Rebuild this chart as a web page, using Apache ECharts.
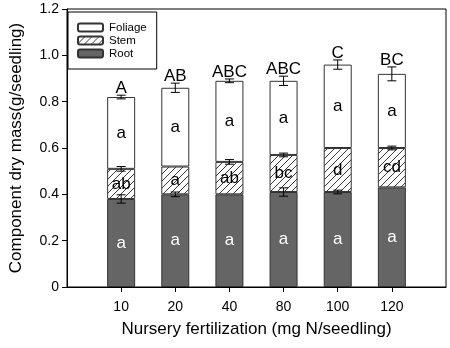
<!DOCTYPE html>
<html>
<head>
<meta charset="utf-8">
<script src="https://cdn.jsdelivr.net/npm/echarts@6/dist/echarts.min.js"></script>
<style>
  html, body { margin: 0; padding: 0; background: #fff; }
  #chart { width: 450px; height: 348px; }
</style>
</head>
<body>
<div id="chart"></div>
<script>
// Component dry mass per seedling at each fertilization rate
const categories = ['10', '20', '40', '80', '100', '120'];
const rootMass = [0.38, 0.40, 0.40, 0.41, 0.41, 0.43];
const stemMass = [0.13, 0.12, 0.14, 0.16, 0.19, 0.17];
const foliageMass = [0.31, 0.34, 0.35, 0.32, 0.36, 0.32];

// Standard errors (root top, stem top, whole-seedling top)
const rootSE = [0.018, 0.01, 0, 0.018, 0.008, 0];
const stemSE = [0.01, 0, 0.01, 0.008, 0, 0.008];
const totalSE = [0.008, 0.02, 0.008, 0.02, 0.02, 0.03];

// Significance letters
const rootLetters = ['a', 'a', 'a', 'a', 'a', 'a'];
const stemLetters = ['ab', 'a', 'ab', 'bc', 'd', 'cd'];
const foliageLetters = ['a', 'a', 'a', 'a', 'a', 'a'];
const totalLetters = ['A', 'AB', 'ABC', 'ABC', 'C', 'BC'];

const yTickLabels = ['0', '0.2', '0.4', '0.6', '0.8', '1.0', '1.2'];

const FONT = '"Liberation Sans", Arial, sans-serif';

// Axis categories padded with an empty slot on each side
const axisCats = [''].concat(categories, ['']);
const pad = v => [null].concat(v, [null]);

// Diagonal hatch for the stem segment
function hatchPattern() {
  const s = 7;
  const c = document.createElement('canvas');
  c.width = s; c.height = s;
  const g = c.getContext('2d');
  g.fillStyle = '#fff';
  g.fillRect(0, 0, s, s);
  g.strokeStyle = '#222';
  g.lineWidth = 0.9;
  g.beginPath();
  g.moveTo(0, s); g.lineTo(s, 0);
  g.moveTo(-1, 1); g.lineTo(1, -1);
  g.moveTo(s - 1, s + 1); g.lineTo(s + 1, s - 1);
  g.stroke();
  return c;
}

const stemTop = rootMass.map((r, i) => r + stemMass[i]);
const totalTop = stemTop.map((s, i) => s + foliageMass[i]);

const errData = [];
categories.forEach((c, i) => {
  if (rootSE[i] > 0) errData.push([i + 1, rootMass[i], rootSE[i]]);
  if (stemSE[i] > 0) errData.push([i + 1, stemTop[i], stemSE[i]]);
  if (totalSE[i] > 0) errData.push([i + 1, totalTop[i], totalSE[i]]);
});

const topLetterData = categories.map((c, i) => [i + 1, totalTop[i] + totalSE[i], totalLetters[i]]);

const chart = echarts.init(document.getElementById('chart'), null, { renderer: 'canvas' });

const barBorder = { borderColor: '#333', borderWidth: 1 };

chart.setOption({
  animation: false,
  textStyle: { fontFamily: FONT },
  grid: { left: 61, right: 4, top: 9, bottom: 61, show: true, borderColor: '#000', borderWidth: 1, backgroundColor: 'transparent' },
  legend: {
    data: ['Foliage', 'Stem', 'Root'],
    orient: 'vertical',
    left: 68, top: 12,
    itemWidth: 25, itemHeight: 8, itemGap: 0,
    padding: [9, 10, 9, 9],
    borderColor: '#000', borderWidth: 1,
    backgroundColor: '#fff',
    textStyle: { fontFamily: FONT, fontSize: 11.5, lineHeight: 13, color: '#000', padding: [0, 0, 0, 1] }
  },
  xAxis: {
    type: 'category',
    data: axisCats,
    boundaryGap: false,
    name: 'Nursery fertilization (mg N/seedling)',
    nameLocation: 'middle',
    nameGap: 34,
    nameTextStyle: { fontFamily: FONT, fontSize: 17, color: '#000' },
    axisLine: { lineStyle: { color: '#000', width: 1 } },
    axisTick: { show: true, length: 5, interval: (i) => i > 0 && i < axisCats.length - 1, lineStyle: { color: '#000' } },
    axisLabel: { interval: 0, margin: 13, fontFamily: FONT, fontSize: 14, color: '#000' },
    splitLine: { show: false }
  },
  yAxis: {
    type: 'value',
    min: 0, max: 1.2, interval: 0.2,
    name: 'Component dry mass(g/seedling)',
    nameLocation: 'middle',
    nameGap: 42,
    nameTextStyle: { fontFamily: FONT, fontSize: 17, color: '#000' },
    axisLine: { show: true, lineStyle: { color: '#000', width: 1 } },
    axisTick: { show: true, length: 5, lineStyle: { color: '#000' } },
    axisLabel: {
      margin: 8, fontFamily: FONT, fontSize: 14, color: '#000',
      formatter: v => yTickLabels[Math.round(v / 0.2)]
    },
    splitLine: { show: false }
  },
  series: [
    {
      name: 'Root', type: 'bar', stack: 'mass', barWidth: 28,
      data: pad(rootMass),
      itemStyle: Object.assign({ color: '#656565' }, barBorder),
      label: {
        show: true, position: 'inside', color: '#fff', fontFamily: FONT, fontSize: 17,
        formatter: p => rootLetters[p.dataIndex - 1]
      }
    },
    {
      name: 'Stem', type: 'bar', stack: 'mass', barWidth: 28,
      data: pad(stemMass),
      itemStyle: Object.assign({ color: { image: hatchPattern(), repeat: 'repeat' } }, barBorder),
      label: {
        show: true, position: 'inside', color: '#000', fontFamily: FONT, fontSize: 17,
        formatter: p => stemLetters[p.dataIndex - 1]
      }
    },
    {
      name: 'Foliage', type: 'bar', stack: 'mass', barWidth: 28,
      data: pad(foliageMass),
      itemStyle: Object.assign({ color: '#fff' }, barBorder),
      label: {
        show: true, position: 'inside', color: '#000', fontFamily: FONT, fontSize: 17,
        formatter: p => foliageLetters[p.dataIndex - 1]
      }
    },
    {
      name: 'errors', type: 'custom', data: errData, z: 10,
      encode: { x: 0, y: 1 },
      renderItem: (params, api) => {
        const x = api.value(0), c = api.value(1), e = api.value(2);
        const hi = api.coord([x, c + e]);
        const lo = api.coord([x, c - e]);
        const hw = 4.5;
        const style = { stroke: '#000', lineWidth: 1, fill: null };
        return {
          type: 'group',
          children: [
            { type: 'line', shape: { x1: hi[0], y1: hi[1], x2: lo[0], y2: lo[1] }, style },
            { type: 'line', shape: { x1: hi[0] - hw, y1: hi[1], x2: hi[0] + hw, y2: hi[1] }, style },
            { type: 'line', shape: { x1: lo[0] - hw, y1: lo[1], x2: lo[0] + hw, y2: lo[1] }, style }
          ]
        };
      }
    },
    {
      name: 'groups', type: 'custom', data: topLetterData, z: 11,
      encode: { x: 0, y: 1 },
      renderItem: (params, api) => {
        const p = api.coord([api.value(0), api.value(1)]);
        return {
          type: 'text',
          style: {
            text: totalLetters[params.dataIndex],
            x: p[0], y: p[1] + 2,
            textAlign: 'center', textVerticalAlign: 'bottom',
            fontFamily: FONT, fontSize: 17, fill: '#000'
          }
        };
      }
    }
  ]
});
</script>
</body>
</html>
